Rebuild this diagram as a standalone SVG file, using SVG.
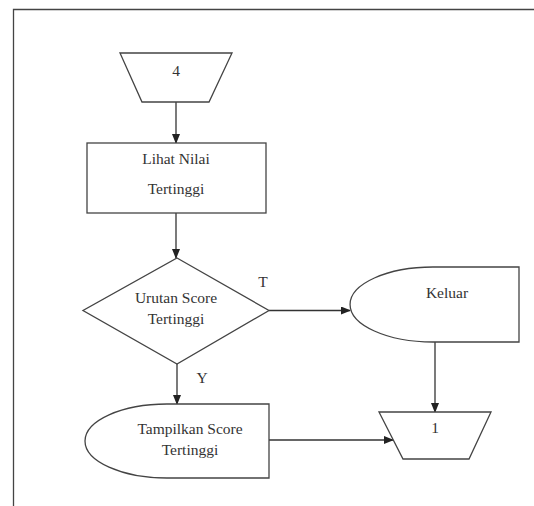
<svg xmlns="http://www.w3.org/2000/svg" width="534" height="506" viewBox="0 0 534 506">
<defs>
<marker id="ah" markerWidth="10" markerHeight="8" refX="9" refY="4" orient="auto" markerUnits="userSpaceOnUse">
<path d="M0,0 L10,4 L0,8 Z" fill="#222"/>
</marker>
<style>
.s{fill:#fff;stroke:#444;stroke-width:1.3}
.c{fill:none;stroke:#333;stroke-width:1.3}
.t{font-family:"Liberation Serif","Times New Roman",serif;font-size:15.5px;fill:#333;text-anchor:middle}
</style>
</defs>
<rect width="534" height="506" fill="#fff"/>
<path d="M13.5,506 L13.5,9.5 L534,9.5" fill="none" stroke="#444" stroke-width="1.3"/>
<g id="connectors">
<line class="c" x1="176" y1="102" x2="176" y2="143" marker-end="url(#ah)"/>
<line class="c" x1="176" y1="213" x2="176" y2="258" marker-end="url(#ah)"/>
<line class="c" x1="269" y1="310.5" x2="350" y2="310.5" marker-end="url(#ah)"/>
<line class="c" x1="177" y1="364" x2="177" y2="404" marker-end="url(#ah)"/>
<line class="c" x1="269" y1="440" x2="393" y2="440" marker-end="url(#ah)"/>
<line class="c" x1="435" y1="342" x2="435" y2="412" marker-end="url(#ah)"/>
<text class="t" x="263" y="287">T</text>
<text class="t" x="202" y="383">Y</text>
</g>
<g id="n4">
<polygon class="s" points="120,53 232,53 209,102 142,102"/>
<text class="t" x="176" y="76">4</text>
</g>
<g id="lihat">
<rect class="s" x="87" y="143" width="179" height="70"/>
<text class="t" x="176" y="164">Lihat Nilai</text>
<text class="t" x="176" y="194">Tertinggi</text>
</g>
<g id="urutan">
<polygon class="s" points="177,258 269,310.5 177,364 83,310.5"/>
<text class="t" x="176" y="303">Urutan Score</text>
<text class="t" x="176" y="324">Tertinggi</text>
</g>
<g id="keluar">
<path class="s" d="M433,267 L519,267 L519,342 L433,342 A83,37.5 0 0 1 433,267 Z"/>
<text class="t" x="447" y="298">Keluar</text>
</g>
<g id="tampilkan">
<path class="s" d="M167,404 L269,404 L269,478 L167,478 A82,37 0 0 1 167,404 Z"/>
<text class="t" x="190" y="434">Tampilkan Score</text>
<text class="t" x="190" y="455">Tertinggi</text>
</g>
<g id="n1">
<polygon class="s" points="379,412 491,412 469,459 403,459"/>
<text class="t" x="435" y="433">1</text>
</g>
</svg>
